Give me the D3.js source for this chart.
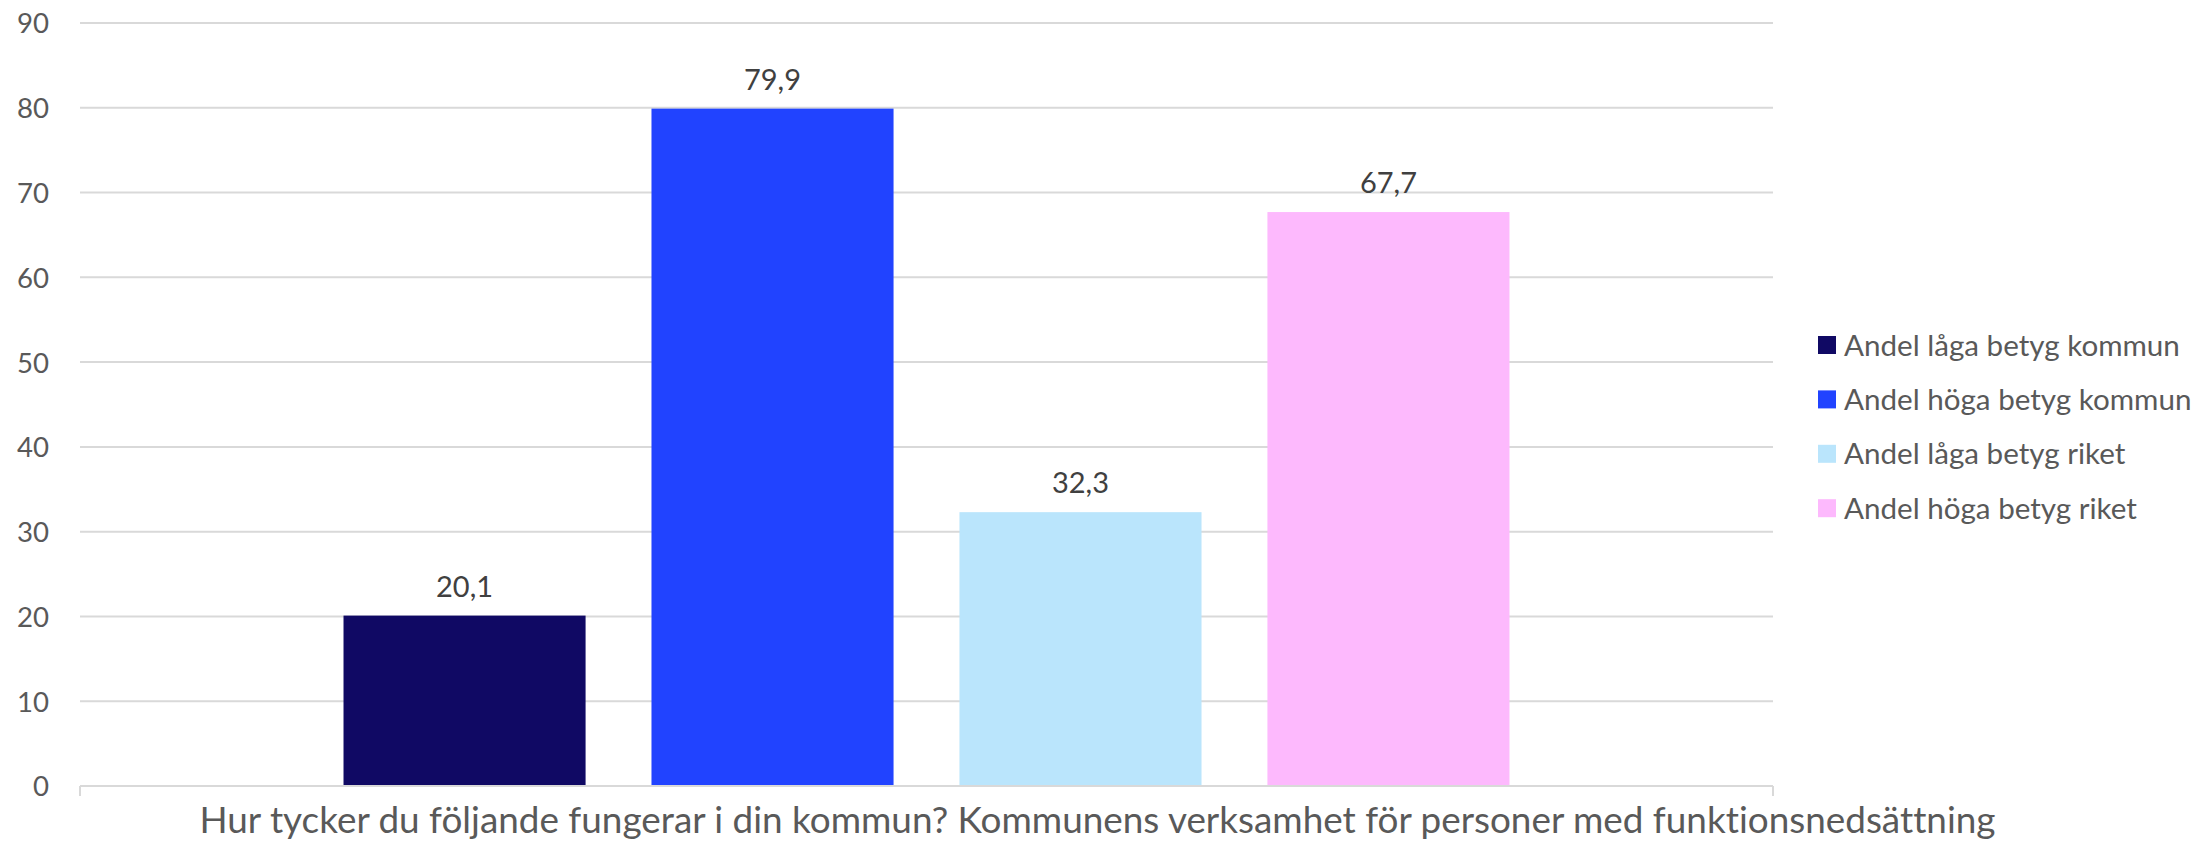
<!DOCTYPE html>
<html><head><meta charset="utf-8">
<script src="https://cdn.jsdelivr.net/npm/d3@7"></script>
<style>html,body{margin:0;padding:0;background:#fff;overflow:hidden} text{font-variant-ligatures:none;font-feature-settings:"liga" 0}</style>
</head><body>
<svg id="c" width="2198" height="842"></svg>
<script>
const categories = ["Hur tycker du följande fungerar i din kommun? Kommunens verksamhet för personer med funktionsnedsättning"];
const seriesNames = ["Andel låga betyg kommun","Andel höga betyg kommun","Andel låga betyg riket","Andel höga betyg riket"];
const seriesValues = [20.1, 79.9, 32.3, 67.7];
const seriesColors = ["#100964","#2143FF","#BAE5FC","#FDB9FD"];
const yTicks = [0,10,20,30,40,50,60,70,80,90];

const FONT = "Lato, 'Open Sans', sans-serif";
const svg = d3.select("#c");
const L = 80, R = 1773, T = 23, B = 786;

const y = d3.scaleLinear().domain([0,90]).range([B,T]);
const x0 = d3.scaleBand().domain(categories).range([L,R]).paddingInner(0).paddingOuter(0.226);
const x1 = d3.scaleBand().domain(seriesNames).range([0,x0.bandwidth()]).paddingInner(0.214).paddingOuter(0);

function fit(sel, target){
  sel.each(function(){
    const w = this.getComputedTextLength();
    const fs = parseFloat(d3.select(this).attr("font-size"));
    d3.select(this).attr("font-size", fs*target/w);
  });
}

// gridlines
svg.append("g").selectAll("line").data(yTicks.filter(d=>d>0)).join("line")
  .attr("x1",L).attr("x2",R).attr("y1",d=>y(d)).attr("y2",d=>y(d))
  .attr("stroke","#d9d9d9").attr("stroke-width",2);

// y axis labels via d3 axis
const yAxis = d3.axisLeft(y).tickValues(yTicks).tickSize(0).tickPadding(0);
const gy = svg.append("g").attr("transform","translate(49,0)").call(yAxis);
gy.select(".domain").remove();
gy.selectAll("text").attr("font-family",FONT).attr("font-size",28).attr("fill","#595959").attr("dy","0.36em");
const t90 = gy.selectAll("text").filter(d=>d===90).node();
const k = 32 / t90.getComputedTextLength();
gy.selectAll("text").attr("font-size",28*k);

// bars
const g = svg.append("g");
const data = seriesNames.map((s,i)=>({cat:categories[0],name:s,value:seriesValues[i],color:seriesColors[i]}));
g.selectAll("rect").data(data).join("rect")
  .attr("x",d=>x0(d.cat)+x1(d.name)).attr("width",x1.bandwidth())
  .attr("y",d=>y(d.value)).attr("height",d=>y(0)-y(d.value))
  .attr("fill",d=>d.color);

// value labels
const vl = g.selectAll("text.v").data(data).join("text").attr("class","v")
  .attr("x",d=>x0(d.cat)+x1(d.name)+x1.bandwidth()/2).attr("y",d=>y(d.value)-19)
  .attr("text-anchor","middle").attr("font-family",FONT).attr("font-size",28).attr("fill","#404040")
  .text(d=>d.value.toFixed(1).replace(".",","));
const kv = 57 / vl.filter(d=>d.value===79.9).node().getComputedTextLength();
vl.attr("font-size",28*kv);

// x axis baseline + end ticks
svg.append("line").attr("x1",L).attr("x2",R).attr("y1",B).attr("y2",B).attr("stroke","#d9d9d9").attr("stroke-width",2);
[L,R].forEach(xx=>svg.append("line").attr("x1",xx).attr("x2",xx).attr("y1",B).attr("y2",B+10).attr("stroke","#d9d9d9").attr("stroke-width",2));

// category title
const ct = svg.append("text").attr("x",1097.5).attr("y",833).attr("text-anchor","middle")
  .attr("font-family",FONT).attr("font-size",28).attr("fill","#595959").text(categories[0]);
fit(ct,1797);

// legend
const lg = svg.append("g").selectAll("g").data(data).join("g")
  .attr("transform",(d,i)=>`translate(1818,${345+i*54.4})`);
lg.append("rect").attr("x",0).attr("y",-9).attr("width",18).attr("height",18).attr("fill",d=>d.color);
const lt = lg.append("text").attr("x",26).attr("y",0).attr("dy","0.36em")
  .attr("font-family",FONT).attr("font-size",28).attr("fill","#595959").text(d=>d.name);
const kl = 336 / lt.filter((d,i)=>i===0).node().getComputedTextLength();
lt.attr("font-size",28*kl);
</script>
</body></html>
